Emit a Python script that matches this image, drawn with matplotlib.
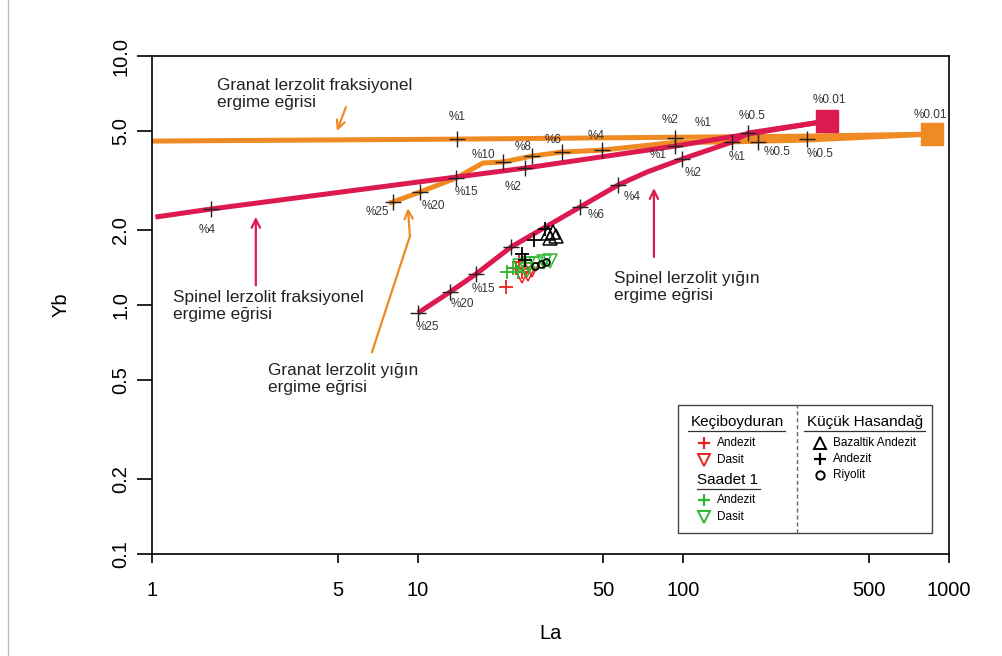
import matplotlib
matplotlib.use("Agg")
import matplotlib.pyplot as plt
from matplotlib.lines import Line2D
from matplotlib.patches import Rectangle

plt.rcParams['font.family'] = ['Liberation Sans', 'DejaVu Sans']

PINK = '#DC1A50'
ORANGE = '#F08A22'

# ---- melting curves (La, Yb) ----
gf_la = [1.0, 14.05, 291.9, 862]
gf_yb = [4.556, 4.64, 4.77, 4.861]
gf_mark_la = [14.05, 291.9]
gf_mark_yb = [4.64, 4.64]

gb_la = [7.8, 8.07, 10.2, 13.94, 17.6, 20.94, 26.93, 34.93, 49.38, 93.0, 152.4, 190.9, 291.9, 862]
gb_yb = [2.57, 2.593, 2.844, 3.236, 3.72, 3.753, 3.966, 4.115, 4.19, 4.50, 4.52, 4.55, 4.60, 4.861]
gb_mark_la = [8.07, 10.2, 13.94, 20.94, 26.93, 34.93, 49.38, 93.0, 152.4, 190.9]
gb_mark_yb = [2.593, 2.844, 3.236, 3.753, 3.966, 4.115, 4.192, 4.685, 4.515, 4.515]

sf_la = [1.03, 1.667, 25.34, 93.0, 347.1]
sf_yb = [2.256, 2.43, 3.549, 4.35, 5.483]
sf_mark_la = [1.667, 25.34, 93.0]
sf_mark_yb = [2.43, 3.549, 4.35]

sb_la = [10.03, 13.23, 16.58, 22.45, 40.81, 56.74, 72.9, 98.8, 152.4, 175.1, 347.1]
sb_yb = [0.929, 1.128, 1.332, 1.71, 2.475, 3.033, 3.42, 3.858, 4.515, 4.908, 5.483]
sb_mark_la = [10.03, 13.23, 16.58, 22.45, 40.81, 56.74, 98.8, 175.1]
sb_mark_yb = [0.929, 1.128, 1.332, 1.71, 2.475, 3.033, 3.858, 4.908]

# percent labels (La, Yb, text)
pct_la = [14.05, 89.0, 118.5, 181.2, 353, 847.6, 80.2, 159.1, 225.1, 326.6,
          108.7, 64.1, 46.9, 17.76, 14.68, 10.84,
          7.03, 11.42, 15.20, 17.76, 24.9, 32.3, 46.9, 1.61, 22.85]
pct_yb = [5.69, 5.53, 5.38, 5.74, 6.66, 5.80, 4.00, 3.93, 4.115, 4.04,
          3.39, 2.72, 2.30, 1.16, 1.01, 0.816,
          2.363, 2.50, 2.844, 4.00, 4.31, 4.60, 4.77, 2.00, 2.98]
pct_txt = ['%1', '%2', '%1', '%0.5', '%0.01', '%0.01', '%1', '%1', '%0.5', '%0.5',
           '%2', '%4', '%6', '%15', '%20', '%25',
           '%25', '%20', '%15', '%10', '%8', '%6', '%4', '%4', '%2']

# ---- samples ----
kb_and_la = [21.5, 24.0, 24.7, 23.4]
kb_and_yb = [1.18, 1.49, 1.36, 1.41]
kb_das_la = [24.7, 26.0, 26.9]
kb_das_yb = [1.31, 1.33, 1.38]
sa_and_la = [21.7, 22.8, 23.8]
sa_and_yb = [1.36, 1.41, 1.36]
sa_das_la = [24.3, 26.0, 27.9, 29.9, 31.5, 25.7]
sa_das_yb = [1.43, 1.46, 1.46, 1.49, 1.50, 1.38]
kh_baz_la = [30.9, 32.3, 33.2, 31.5]
kh_baz_yb = [1.95, 1.965, 1.89, 1.86]
kh_and_la = [30.1, 27.4, 24.7, 25.3]
kh_and_yb = [2.02, 1.82, 1.60, 1.51]
kh_riy_la = [27.6, 29.0, 30.4]
kh_riy_yb = [1.43, 1.46, 1.49]

fig = plt.figure(figsize=(10.03, 6.56), dpi=100)
ax = fig.add_axes([0.1515, 0.1555, 0.7947, 0.759])
ax.set_xscale('log')
ax.set_yscale('log')
ax.set_xlim(1, 1000)
ax.set_ylim(0.1, 10)

# curves
ax.plot(gf_la, gf_yb, color=ORANGE, lw=3.6, solid_capstyle='butt', zorder=2)
ax.plot(gb_la, gb_yb, color=ORANGE, lw=3.6, solid_capstyle='butt', zorder=2)
ax.plot(sf_la, sf_yb, color=PINK, lw=3.6, solid_capstyle='butt', zorder=3)
ax.plot(sb_la, sb_yb, color=PINK, lw=3.6, solid_capstyle='butt', zorder=3)
ax.plot([gf_la[-1]], [gf_yb[-1]], 's', color=ORANGE, ms=15.5, zorder=3)
ax.plot([sf_la[-1]], [sf_yb[-1]], 's', color=PINK, ms=15.5, zorder=4)

for mla, myb in [(gf_mark_la, gf_mark_yb), (gb_mark_la, gb_mark_yb),
                 (sf_mark_la, sf_mark_yb), (sb_mark_la, sb_mark_yb)]:
    ax.plot(mla, myb, '+', color='#222222', ms=12, mew=1.0, zorder=5)

for x, y, t in zip(pct_la, pct_yb, pct_txt):
    ax.text(x, y, t, fontsize=8.5, color='#333333', ha='center', va='center', zorder=6)

# samples
ax.plot(kb_and_la, kb_and_yb, '+', color='#E8231E', ms=10, mew=1.3, ls='none', zorder=7)
ax.plot(kb_das_la, kb_das_yb, 'v', mfc='none', mec='#E8231E', ms=9.5, mew=1.1, ls='none', zorder=7)
ax.plot(sa_and_la, sa_and_yb, '+', color='#2DB82D', ms=10, mew=1.3, ls='none', zorder=7)
ax.plot(sa_das_la, sa_das_yb, 'v', mfc='none', mec='#2DB82D', ms=9.5, mew=1.1, ls='none', zorder=7)
ax.plot(kh_baz_la, kh_baz_yb, '^', mfc='none', mec='black', ms=9.5, mew=1.1, ls='none', zorder=7)
ax.plot(kh_and_la, kh_and_yb, '+', color='black', ms=10, mew=1.3, ls='none', zorder=7)
ax.plot(kh_riy_la, kh_riy_yb, 'o', mfc='none', mec='black', ms=5, mew=1.2, ls='none', zorder=7)

# annotations
afs = 12.4
ax.text(1.76, 7.04, 'Granat lerzolit fraksiyonel\nergime eğrisi', fontsize=afs,
        ha='left', va='center', color='#222222', linespacing=1.15)
ax.text(1.20, 0.99, 'Spinel lerzolit fraksiyonel\nergime eğrisi', fontsize=afs,
        ha='left', va='center', color='#222222', linespacing=1.15)
ax.text(2.73, 0.504, 'Granat lerzolit yığın\nergime eğrisi', fontsize=afs,
        ha='left', va='center', color='#222222', linespacing=1.15)
ax.text(54.8, 1.18, 'Spinel lerzolit yığın\nergime eğrisi', fontsize=afs,
        ha='left', va='center', color='#222222', linespacing=1.15)

aprops = dict(arrowstyle='->,head_length=0.6,head_width=0.3', lw=1.6,
              shrinkA=0, shrinkB=0)
ax.annotate('', xy=(4.97, 5.00), xytext=(5.37, 6.24),
            arrowprops=dict(color=ORANGE, **aprops))
ax.annotate('', xy=(2.46, 2.26), xytext=(2.46, 1.20),
            arrowprops=dict(color=PINK, **aprops))
ax.plot([6.73, 9.35], [0.647, 1.89], color=ORANGE, lw=1.6)
ax.annotate('', xy=(9.19, 2.45), xytext=(9.35, 1.89),
            arrowprops=dict(color=ORANGE, **aprops))
ax.annotate('', xy=(77.5, 2.95), xytext=(77.5, 1.56),
            arrowprops=dict(color=PINK, **aprops))

# axes styling
xt = [1, 5, 10, 50, 100, 500, 1000]
yt = [0.1, 0.2, 0.5, 1.0, 2.0, 5.0, 10.0]
ax.set_xticks(xt)
ax.set_xticklabels([str(v) for v in xt])
ax.set_yticks(yt)
ax.set_yticklabels(['%.1f' % v for v in yt], rotation=90, va='center')
ax.minorticks_off()
ax.tick_params(axis='x', direction='out', length=6.5, width=1.2, pad=13, labelsize=14.5)
ax.tick_params(axis='y', direction='out', length=10.8, width=1.2, pad=5, labelsize=14.5)
for s in ax.spines.values():
    s.set_linewidth(1.2)
ax.set_xlabel('La', fontsize=14.5, labelpad=17)
ax.set_ylabel('Yb', fontsize=14.5, labelpad=29)

# legend box
T = ax.transAxes
ax.add_patch(Rectangle((0.660, 0.0422), 0.3187, 0.257, transform=T, fill=False,
                       ec='#444444', lw=1.0, zorder=8))
ax.plot([0.8093, 0.8093], [0.0422, 0.2992], transform=T, color='#666666',
        lw=1.0, ls=(0, (3, 2)), zorder=8)
ax.text(0.734, 0.265, 'Keçiboyduran', transform=T, fontsize=11, ha='center', va='center')
ax.plot([0.6726, 0.7942], [0.247, 0.247], transform=T, color='#333333', lw=0.9)
ax.text(0.7227, 0.1486, 'Saadet 1', transform=T, fontsize=11, ha='center', va='center')
ax.plot([0.6838, 0.7629], [0.1305, 0.1305], transform=T, color='#333333', lw=0.9)
ax.text(0.8946, 0.265, 'Küçük Hasandağ', transform=T, fontsize=11, ha='center', va='center')
ax.plot([0.818, 0.970], [0.247, 0.247], transform=T, color='#333333', lw=0.9)

leg_items = [
    (0.6926, 0.2229, '+', '#E8231E', 'Andezit'),
    (0.6926, 0.1888, 'v', '#E8231E', 'Dasit'),
    (0.6926, 0.1084, '+', '#2DB82D', 'Andezit'),
    (0.6926, 0.0743, 'v', '#2DB82D', 'Dasit'),
    (0.8381, 0.2229, '^', 'black', 'Bazaltik Andezit'),
    (0.8381, 0.1908, '+', 'black', 'Andezit'),
    (0.8381, 0.1586, 'o', 'black', 'Riyolit'),
]
for x, y, m, c, lab in leg_items:
    if m == '+':
        ax.plot([x], [y], m, color=c, ms=9, mew=1.6, transform=T, clip_on=False)
    else:
        ax.plot([x], [y], m, mfc='none', mec=c, ms=9 if m != 'o' else 6, mew=1.4,
                transform=T, clip_on=False)
    ax.text(x + 0.0165, y, lab, transform=T, fontsize=8.5, ha='left', va='center')

fig.add_artist(Line2D([0.008, 0.008], [0, 1], color='#BBBBBB', lw=1.0))

fig.savefig('out.png', dpi=100)
